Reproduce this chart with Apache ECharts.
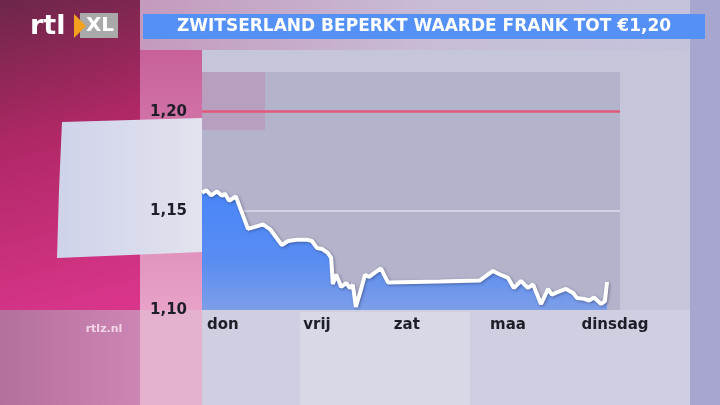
<!DOCTYPE html>
<html>
<head>
<meta charset="utf-8">
<script src="https://cdn.jsdelivr.net/npm/echarts@6/dist/echarts.min.js"></script>
<style>html,body{margin:0;padding:0;background:#c6c6da;}#c{width:720px;height:405px;}</style>
</head>
<body>
<div id="c"></div>
<script>
// time position (0..100 across the plotted week) and EUR/CHF rate
const timePos = [0,1,2.2,3.6,4.8,5.5,6.5,8.1,11,12.7,14.6,16.3,19.1,20.6,22.7,25.1,26.3,27.5,28.7,30.1,30.9,31.3,32.1,33.3,34.5,35.4,36.1,36.8,37.8,39,40,41.6,42.8,44.5,56.9,66.5,69.6,71.3,73.2,74.6,76.3,78,79.2,81.1,82.8,83.7,85.2,87.1,88.8,89.7,91.4,92.6,93.8,95.5,96.4,96.9];
const rate = [1.1591,1.1604,1.1578,1.1598,1.1576,1.1586,1.1551,1.1573,1.1409,1.1419,1.1432,1.1407,1.1328,1.1348,1.1354,1.1354,1.1348,1.1313,1.1308,1.1288,1.1263,1.1131,1.1179,1.1116,1.1136,1.1111,1.1126,1.1015,1.1086,1.1177,1.1167,1.1192,1.1210,1.1139,1.1144,1.1149,1.1197,1.1179,1.1162,1.1111,1.1146,1.1111,1.1129,1.1030,1.1106,1.1078,1.1091,1.1106,1.1086,1.1061,1.1056,1.1048,1.1063,1.1030,1.1045,1.1141];
const dayNames = ['don','vrij','zat','maa','dinsdag'];
const dayTicks = [5, 27.5, 49, 73.2, 98.8];
const yTicks = [1.10, 1.15, 1.20];
const capLevel = 1.20;
const title = 'ZWITSERLAND BEPERKT WAARDE FRANK TOT €1,20';

const chart = echarts.init(document.getElementById('c'), null, {renderer:'canvas'});
const data = timePos.map((t,i)=>[t, rate[i]]);
const bg = (o)=>Object.assign({z:-20, silent:true}, o);
chart.setOption({
  animation:false,
  backgroundColor:'#c6c6da',
  graphic:{elements:[
    bg({type:'rect', shape:{x:0,y:0,width:720,height:405}, style:{fill:'#c6c6da'}}),
    bg({type:'rect', shape:{x:140,y:0,width:580,height:50}, style:{fill:new echarts.graphic.LinearGradient(0,0,1,0,[{offset:0,color:'#c49abd'},{offset:0.5,color:'#c8bcd6'},{offset:1,color:'#c4c4dc'}])}}),
    bg({type:'rect', shape:{x:0,y:0,width:140,height:310}, style:{fill:new echarts.graphic.LinearGradient(0,0,0.6,1,[{offset:0,color:'#6c2648'},{offset:0.45,color:'#b02866'},{offset:1,color:'#d8358a'}])}}),
    bg({type:'rect', shape:{x:140,y:50,width:62,height:260}, style:{fill:new echarts.graphic.LinearGradient(0,0,0,1,[{offset:0,color:'#c8609a'},{offset:1,color:'#e8a2c8'}])}}),
    bg({type:'rect', shape:{x:0,y:310,width:140,height:95}, style:{fill:new echarts.graphic.LinearGradient(0,0,1,0,[{offset:0,color:'#b4709c'},{offset:1,color:'#cc86b4'}])}}),
    bg({type:'rect', shape:{x:140,y:310,width:62,height:95}, style:{fill:'#e4b2ce'}}),
    bg({type:'rect', shape:{x:202,y:310,width:500,height:95}, style:{fill:'#cfcfe1'}}),
    bg({type:'polygon', shape:{points:[[300,312],[470,312],[470,405],[300,405]]}, style:{fill:'#d8d8e6'}}),
    bg({type:'polygon', shape:{points:[[62,122],[202,118],[202,252],[57,258],[59,190]]}, style:{fill:new echarts.graphic.LinearGradient(0,0,1,0,[{offset:0,color:'#cfd3ea'},{offset:1,color:'#e2e3ee'}])}}),
    bg({type:'rect', shape:{x:690,y:0,width:30,height:405}, style:{fill:'#a6a6cf'}}),
    bg({type:'rect', shape:{x:202,y:72,width:418,height:238}, style:{fill:'#b3b3cb'}}),
    bg({type:'rect', shape:{x:202,y:72,width:63,height:58}, style:{fill:'rgba(205,90,150,0.22)'}}),
    // title bar
    {type:'rect', z:5, shape:{x:143,y:14,width:562,height:25}, style:{fill:'#5590f4'}},
    {type:'text', z:6, x:424, y:27, style:{text:title, fill:'#ffffff', font:'bold 17px "DejaVu Sans"', align:'center', verticalAlign:'middle'}},
    // logo
    {type:'text', z:6, x:30, y:27, style:{text:'rtl', fill:'#ffffff', font:'bold 27px "DejaVu Sans"', verticalAlign:'middle'}},
    {type:'rect', z:6, shape:{x:80,y:13,width:38,height:25}, style:{fill:'#a9a9a9'}},
    {type:'polygon', z:7, shape:{points:[[74,14],[86,26],[74,38]]}, style:{fill:'#f2a21e'}},
    {type:'text', z:7, x:100, y:26, style:{text:'XL', fill:'#ffffff', font:'bold 20px "DejaVu Sans"', align:'center', verticalAlign:'middle'}},
    {type:'text', z:6, x:104, y:329, style:{text:'rtlz.nl', fill:'#f2d6e6', font:'bold 11px "DejaVu Sans"', align:'center', verticalAlign:'middle'}}
  ]},
  grid:{left:202, right:100, top:72, bottom:95},
  xAxis:{type:'value', min:0, max:100,
    axisLine:{show:false}, axisTick:{show:false}, splitLine:{show:false},
    axisLabel:{customValues:dayTicks, margin:8, color:'#1e1e28', fontSize:15, fontWeight:'bold', fontFamily:'"DejaVu Sans"',
      formatter:(v)=>{const i=dayTicks.findIndex(t=>Math.abs(t-v)<1e-6); return i>=0?dayNames[i]:'';}}},
  yAxis:{type:'value', min:1.10, max:1.22, interval:0.05,
    axisLine:{show:false}, axisTick:{show:false}, splitLine:{show:false},
    axisLabel:{customValues:yTicks, margin:15, color:'#1e1e28', fontSize:15, fontWeight:'bold', fontFamily:'"DejaVu Sans"',
      formatter:(v)=>v.toFixed(2).replace('.',',')}},
  series:[{
    type:'line', data:data, symbol:'none', smooth:false, z:3,
    lineStyle:{color:'#ffffff', width:4, shadowColor:'rgba(40,40,70,0.45)', shadowBlur:3, shadowOffsetX:1, shadowOffsetY:1},
    areaStyle:{origin:'start', opacity:1, color:new echarts.graphic.LinearGradient(0,0,0,1,[{offset:0,color:'#4886f8'},{offset:0.6,color:'#5a8df2'},{offset:1,color:'#7d9ee8'}])},
    markLine:{silent:true, symbol:'none', label:{show:false}, z:1,
      data:[{yAxis:1.15, lineStyle:{color:'#dcdcea', width:1.5, type:'solid'}},
            {yAxis:capLevel, lineStyle:{color:'#e2587a', width:2.5, type:'solid'}}]}
  }]
});
</script>
</body>
</html>
